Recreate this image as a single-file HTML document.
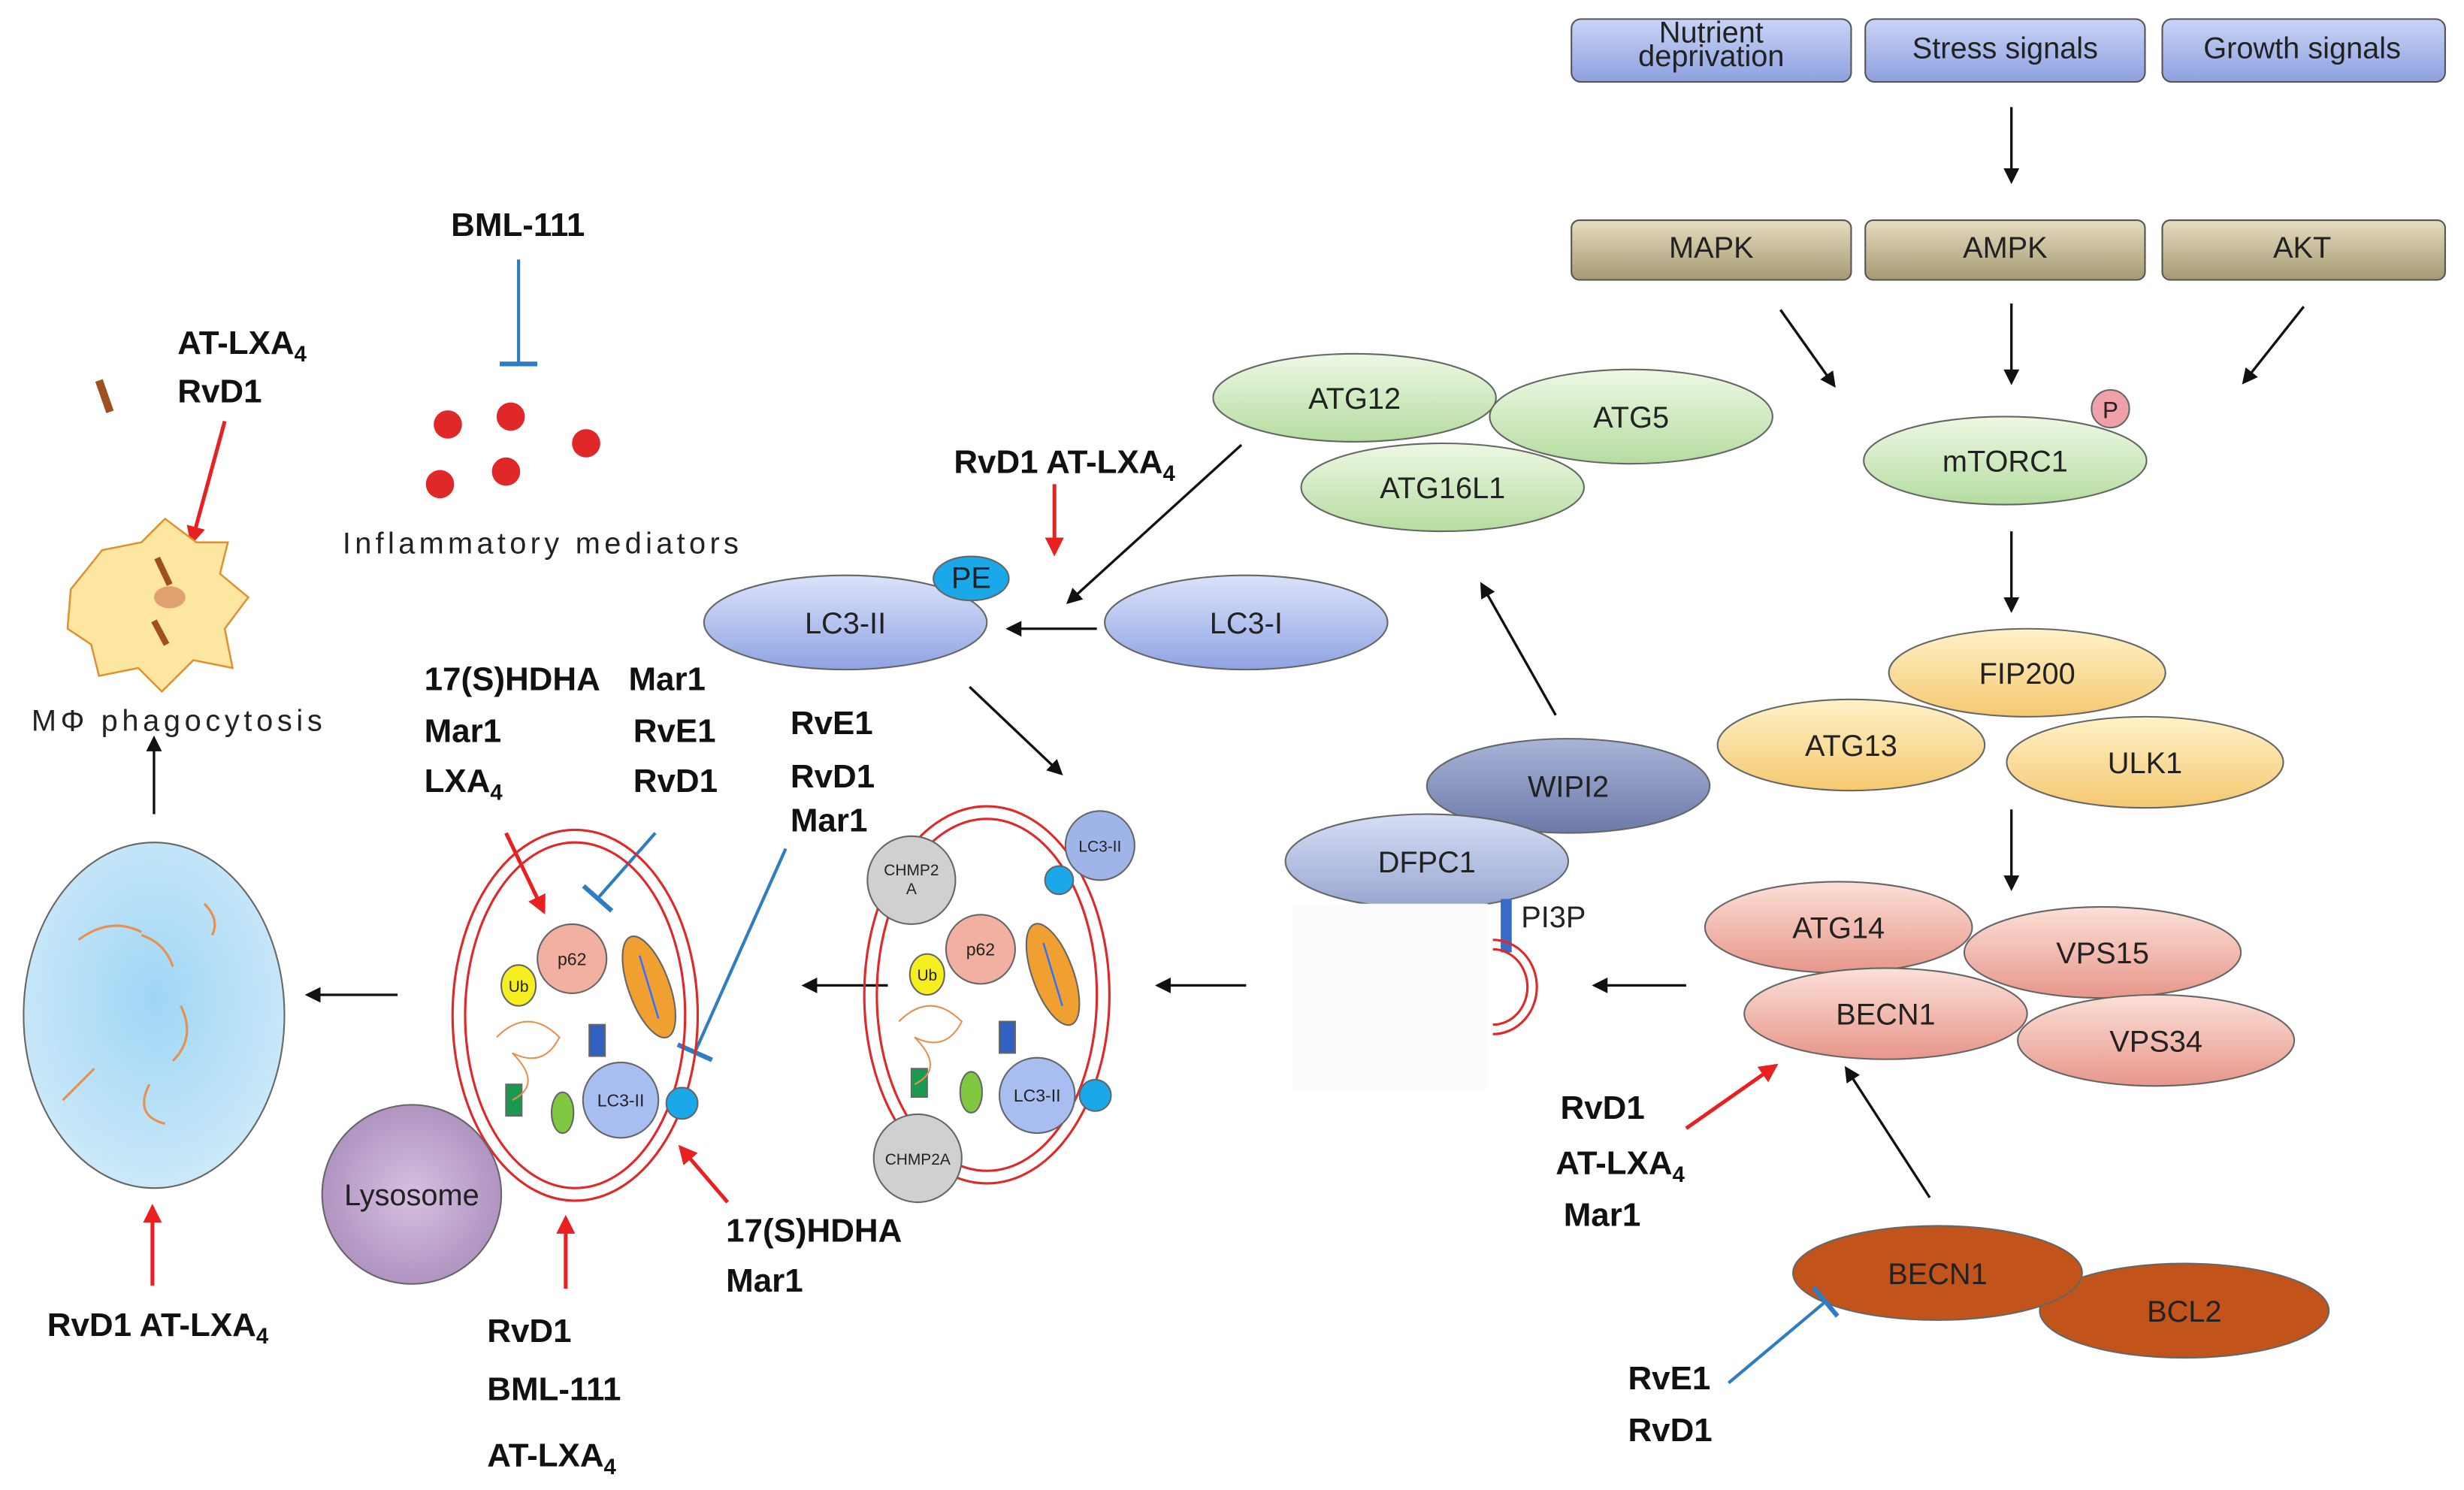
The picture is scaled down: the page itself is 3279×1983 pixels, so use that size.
<!DOCTYPE html>
<html><head><meta charset="utf-8"><style>
html,body{margin:0;padding:0;background:#fff;}
svg{display:block;}
text{font-family:"Liberation Sans",sans-serif;}
.b{font-weight:bold;font-size:21px;fill:#111;}
.n{font-size:19px;fill:#222;}
.s{font-size:11px;fill:#222;}
</style></head><body>
<svg width="3279" height="1983" viewBox="0 0 1568 948" xmlns="http://www.w3.org/2000/svg">
<defs>
<linearGradient id="gb" x1="0" y1="0" x2="0" y2="1"><stop offset="0" stop-color="#c9d4f5"/><stop offset="1" stop-color="#8ea0e0"/></linearGradient>
<linearGradient id="gt" x1="0" y1="0" x2="0" y2="1"><stop offset="0" stop-color="#e6dcc0"/><stop offset="1" stop-color="#a69a72"/></linearGradient>
<linearGradient id="gg" x1="0" y1="0" x2="0" y2="1"><stop offset="0" stop-color="#eef8e4"/><stop offset="1" stop-color="#b5dca0"/></linearGradient>
<linearGradient id="gy" x1="0" y1="0" x2="0" y2="1"><stop offset="0" stop-color="#fff2c8"/><stop offset="1" stop-color="#f5c870"/></linearGradient>
<linearGradient id="gs" x1="0" y1="0" x2="0" y2="1"><stop offset="0" stop-color="#fbe0d8"/><stop offset="1" stop-color="#e8968a"/></linearGradient>
<linearGradient id="gl" x1="0" y1="0" x2="0" y2="1"><stop offset="0" stop-color="#dbe3fa"/><stop offset="1" stop-color="#8fa3e3"/></linearGradient>
<linearGradient id="gw" x1="0" y1="0" x2="0" y2="1"><stop offset="0" stop-color="#a8b4d8"/><stop offset="1" stop-color="#6c7aa8"/></linearGradient>
<linearGradient id="gd" x1="0" y1="0" x2="0" y2="1"><stop offset="0" stop-color="#d6def5"/><stop offset="1" stop-color="#97a5d0"/></linearGradient>
<radialGradient id="gc" cx="0.5" cy="0.45" r="0.6"><stop offset="0" stop-color="#9fd6f5"/><stop offset="1" stop-color="#cfeaf9"/></radialGradient>
<radialGradient id="gp" cx="0.5" cy="0.5" r="0.6"><stop offset="0" stop-color="#d7bfe0"/><stop offset="1" stop-color="#a98bbb"/></radialGradient>
<marker id="ak" markerWidth="10" markerHeight="10" refX="8" refY="5" orient="auto" markerUnits="userSpaceOnUse"><path d="M0,0 L10,5 L0,10 z" fill="#111"/></marker>
<marker id="ar" markerWidth="12" markerHeight="12" refX="10" refY="6" orient="auto" markerUnits="userSpaceOnUse"><path d="M0,0 L12,6 L0,12 z" fill="#e82020"/></marker>
<marker id="tb" markerWidth="4" markerHeight="24" refX="2" refY="12" orient="auto" markerUnits="userSpaceOnUse"><rect x="0" y="0" width="3" height="24" fill="#2e7dc2"/></marker>
</defs>
<g stroke="#555" stroke-width="1">
<rect x="1000" y="12" width="178" height="40" rx="6" fill="url(#gb)"/>
<rect x="1187" y="12" width="178" height="40" rx="6" fill="url(#gb)"/>
<rect x="1376" y="12" width="180" height="40" rx="6" fill="url(#gb)"/>
<rect x="1000" y="140" width="178" height="38" rx="5" fill="url(#gt)"/>
<rect x="1187" y="140" width="178" height="38" rx="5" fill="url(#gt)"/>
<rect x="1376" y="140" width="180" height="38" rx="5" fill="url(#gt)"/>
</g>
<text x="1089" y="27" text-anchor="middle" class="n" font-size="16">Nutrient</text>
<text x="1089" y="42" text-anchor="middle" class="n" font-size="16">deprivation</text>
<text x="1276" y="37" text-anchor="middle" class="n" font-size="16">Stress signals</text>
<text x="1465" y="37" text-anchor="middle" class="n" font-size="16">Growth signals</text>
<text x="1089" y="164" text-anchor="middle" class="n" font-size="16">MAPK</text>
<text x="1276" y="164" text-anchor="middle" class="n" font-size="16">AMPK</text>
<text x="1465" y="164" text-anchor="middle" class="n" font-size="16">AKT</text>
<g stroke="#111" stroke-width="1.6" fill="none" marker-end="url(#ak)">
<line x1="1280" y1="68" x2="1280" y2="115"/>
<line x1="1133" y1="197" x2="1167" y2="245"/>
<line x1="1280" y1="193" x2="1280" y2="243"/>
<line x1="1466" y1="195" x2="1428" y2="243"/>
<line x1="1280" y1="338" x2="1280" y2="388"/>
<line x1="1280" y1="515" x2="1280" y2="565"/>
<line x1="1228" y1="762" x2="1175" y2="680"/>
<line x1="1073" y1="627" x2="1015" y2="627"/>
<line x1="990" y1="455" x2="943" y2="372"/>
<line x1="790" y1="283" x2="680" y2="383"/>
<line x1="698" y1="400" x2="642" y2="400"/>
<line x1="617" y1="437" x2="675" y2="492"/>
<line x1="793" y1="627" x2="737" y2="627"/>
<line x1="565" y1="627" x2="512" y2="627"/>
<line x1="253" y1="633" x2="196" y2="633"/>
<line x1="98" y1="518" x2="98" y2="470"/>
</g>
<g stroke="#666" stroke-width="1">
<ellipse cx="1276" cy="293" rx="90" ry="28" fill="url(#gg)"/>
<circle cx="1343" cy="260" r="12" fill="#f0a0a8"/>
<ellipse cx="1290" cy="428" rx="88" ry="28" fill="url(#gy)"/>
<ellipse cx="1178" cy="474" rx="85" ry="29" fill="url(#gy)"/>
<ellipse cx="1365" cy="485" rx="88" ry="29" fill="url(#gy)"/>
<ellipse cx="1170" cy="590" rx="85" ry="29" fill="url(#gs)"/>
<ellipse cx="1338" cy="606" rx="88" ry="29" fill="url(#gs)"/>
<ellipse cx="1200" cy="645" rx="90" ry="29" fill="url(#gs)"/>
<ellipse cx="1372" cy="662" rx="88" ry="29" fill="url(#gs)"/>
<ellipse cx="1390" cy="834" rx="92" ry="30" fill="#c2531a"/>
<ellipse cx="1233" cy="810" rx="92" ry="30" fill="#c2531a"/>
<ellipse cx="998" cy="500" rx="90" ry="30" fill="url(#gw)"/>
<ellipse cx="908" cy="548" rx="90" ry="30" fill="url(#gd)"/>
<ellipse cx="862" cy="253" rx="90" ry="28" fill="url(#gg)"/>
<ellipse cx="1038" cy="265" rx="90" ry="30" fill="url(#gg)"/>
<ellipse cx="918" cy="310" rx="90" ry="28" fill="url(#gg)"/>
<ellipse cx="793" cy="396" rx="90" ry="30" fill="url(#gl)"/>
<ellipse cx="538" cy="396" rx="90" ry="30" fill="url(#gl)"/>
<ellipse cx="618" cy="368" rx="24" ry="14" fill="#1aa8e8"/>
</g>
<g class="n" text-anchor="middle">
<text x="1343" y="266" font-size="15">P</text>
<text x="1276" y="300">mTORC1</text>
<text x="1290" y="435">FIP200</text>
<text x="1178" y="481">ATG13</text>
<text x="1365" y="492">ULK1</text>
<text x="1170" y="597">ATG14</text>
<text x="1338" y="613">VPS15</text>
<text x="1200" y="652">BECN1</text>
<text x="1372" y="669">VPS34</text>
<text x="1233" y="817">BECN1</text>
<text x="1390" y="841">BCL2</text>
<text x="998" y="507">WIPI2</text>
<text x="908" y="555">DFPC1</text>
<text x="862" y="260">ATG12</text>
<text x="1038" y="272">ATG5</text>
<text x="918" y="317">ATG16L1</text>
<text x="793" y="403">LC3-I</text>
<text x="538" y="403">LC3-II</text>
<text x="618" y="374">PE</text>
</g>
<rect x="822" y="575" width="125" height="118" fill="#fbfbfb"/>
<rect x="955" y="572" width="7" height="34" fill="#3a6ac8"/>
<text x="968" y="590" class="n">PI3P</text>
<path d="M950,604 A22,24 0 0 1 950,652" stroke="#e02828" stroke-width="1.5" fill="none"/>
<path d="M950,598 A28,30 0 0 1 950,658" stroke="#e02828" stroke-width="1.5" fill="none"/>
<g stroke="#2e7dc2" stroke-width="2" fill="none" marker-end="url(#tb)">
<line x1="1100" y1="880" x2="1162" y2="828"/>
<line x1="330" y1="165" x2="330" y2="232"/>
<line x1="417" y1="530" x2="380" y2="572"/>
<line x1="500" y1="540" x2="442" y2="670"/>
</g>
<g stroke="#e82020" stroke-width="2.4" fill="none" marker-end="url(#ar)">
<line x1="1073" y1="718" x2="1130" y2="678"/>
<line x1="671" y1="308" x2="671" y2="352"/>
<line x1="322" y1="530" x2="346" y2="580"/>
<line x1="463" y1="765" x2="433" y2="730"/>
<line x1="360" y1="820" x2="360" y2="775"/>
<line x1="97" y1="818" x2="97" y2="768"/>
<line x1="143" y1="268" x2="122" y2="345"/>
</g>
<g fill="none" stroke="#e02828" stroke-width="1.5">
<ellipse cx="628" cy="633" rx="78" ry="120"/><ellipse cx="628" cy="633" rx="70" ry="112"/>
<ellipse cx="366" cy="646" rx="78" ry="118"/><ellipse cx="366" cy="646" rx="70" ry="110"/>
</g>
<g stroke="#666" stroke-width="1">
<circle cx="700" cy="538" r="22" fill="#9fb5ea"/>
<circle cx="674" cy="560" r="9" fill="#1aa8e8"/>
<circle cx="697" cy="697" r="10" fill="#1aa8e8"/>
<circle cx="580" cy="560" r="28" fill="#d0d0d0"/>
<circle cx="584" cy="737" r="28" fill="#d0d0d0"/>
<circle cx="624" cy="604" r="22" fill="#f2b0a0"/>
<ellipse cx="590" cy="620" rx="11" ry="13" fill="#f5ef20"/>
<circle cx="660" cy="697" r="24" fill="#a8bdf0"/>
<rect x="580" y="680" width="10" height="18" fill="#1a9a50"/>
<ellipse cx="618" cy="695" rx="7" ry="13" fill="#7fc840"/>
<rect x="636" y="650" width="10" height="20" fill="#3060c0"/>
<ellipse cx="670" cy="620" rx="13" ry="34" fill="#f0a030" transform="rotate(-20 670 620)"/>
<circle cx="364" cy="610" r="22" fill="#f2b0a0"/>
<ellipse cx="330" cy="627" rx="11" ry="13" fill="#f5ef20"/>
<circle cx="395" cy="700" r="24" fill="#a8bdf0"/>
<circle cx="434" cy="702" r="10" fill="#1aa8e8"/>
<rect x="322" y="690" width="10" height="20" fill="#1a9a50"/>
<ellipse cx="358" cy="708" rx="7" ry="13" fill="#7fc840"/>
<rect x="375" y="652" width="10" height="20" fill="#3060c0"/>
<ellipse cx="413" cy="628" rx="13" ry="34" fill="#f0a030" transform="rotate(-20 413 628)"/>
<circle cx="262" cy="760" r="57" fill="url(#gp)"/>
<ellipse cx="98" cy="646" rx="83" ry="110" fill="url(#gc)"/>
</g>
<path d="M572,650 q20,-20 40,0 q-10,20 -30,10 q20,20 0,30 M316,660 q20,-20 40,0 q-10,20 -30,10 q20,20 0,30" stroke="#e89050" fill="none"/>
<g stroke="#3070ff" stroke-width="1.2"><line x1="664" y1="600" x2="676" y2="640"/><line x1="407" y1="608" x2="419" y2="648"/></g>
<g stroke="#e89050" stroke-width="1.5" fill="none">
<path d="M50,598 q20,-15 40,-5"/><path d="M90,595 q15,5 20,20"/><path d="M115,640 q10,20 -5,35"/><path d="M60,680 q-10,10 -20,20"/><path d="M95,690 q-10,20 10,25"/><path d="M130,575 q10,10 5,20"/>
</g>
<g class="s" text-anchor="middle">
<text x="700" y="542" font-size="10">LC3-II</text>
<text x="580" y="557" font-size="10">CHMP2</text><text x="580" y="569" font-size="10">A</text>
<text x="584" y="741" font-size="10">CHMP2A</text>
<text x="624" y="608">p62</text><text x="590" y="624" font-size="10">Ub</text>
<text x="660" y="701">LC3-II</text>
<text x="364" y="614">p62</text><text x="330" y="631" font-size="10">Ub</text>
<text x="395" y="704">LC3-II</text>
</g>
<text x="262" y="767" text-anchor="middle" class="n">Lysosome</text>
<path d="M45,375 l20,-25 l25,-5 l15,-15 l20,15 l20,0 l-5,20 l18,15 l-15,20 l5,25 l-25,-5 l-20,20 l-15,-15 l-25,5 l-5,-20 l-15,-10 z" fill="#fde7a0" stroke="#e09030" stroke-width="1.2"/>
<ellipse cx="108" cy="380" rx="10" ry="7" fill="#e0a070"/>
<line x1="100" y1="355" x2="108" y2="372" stroke="#a05020" stroke-width="4"/>
<line x1="98" y1="395" x2="106" y2="410" stroke="#a05020" stroke-width="4"/>
<line x1="63" y1="242" x2="70" y2="262" stroke="#a05020" stroke-width="5"/>
<g fill="#e02828"><circle cx="285" cy="270" r="9"/><circle cx="325" cy="265" r="9"/><circle cx="373" cy="282" r="9"/><circle cx="280" cy="308" r="9"/><circle cx="322" cy="300" r="9"/></g>
<text x="218" y="352" class="n" font-size="21" textLength="252">Inflammatory  mediators</text>
<text x="20" y="465" class="n" font-size="21" textLength="185">MΦ phagocytosis</text>
<g class="b">
<text x="287" y="150">BML-111</text>
<text x="113" y="225">AT-LXA<tspan font-size="14" dy="5">4</tspan></text>
<text x="113" y="256">RvD1</text>
<text x="607" y="301">RvD1  AT-LXA<tspan font-size="14" dy="5">4</tspan></text>
<text x="270" y="439">17(S)HDHA</text><text x="400" y="439">Mar1</text>
<text x="270" y="472">Mar1</text><text x="403" y="472">RvE1</text>
<text x="270" y="504">LXA<tspan font-size="14" dy="5">4</tspan></text><text x="403" y="504">RvD1</text>
<text x="503" y="467">RvE1</text><text x="503" y="501">RvD1</text><text x="503" y="529">Mar1</text>
<text x="462" y="790">17(S)HDHA</text><text x="462" y="822">Mar1</text>
<text x="310" y="854">RvD1</text><text x="310" y="891">BML-111</text>
<text x="310" y="933">AT-LXA<tspan font-size="14" dy="5">4</tspan></text>
<text x="30" y="850">RvD1  AT-LXA<tspan font-size="14" dy="5">4</tspan></text>
<text x="993" y="712">RvD1</text>
<text x="990" y="747">AT-LXA<tspan font-size="14" dy="5">4</tspan></text>
<text x="995" y="780">Mar1</text>
<text x="1036" y="884">RvE1</text><text x="1036" y="917">RvD1</text>
</g>
</svg>
</body></html>
